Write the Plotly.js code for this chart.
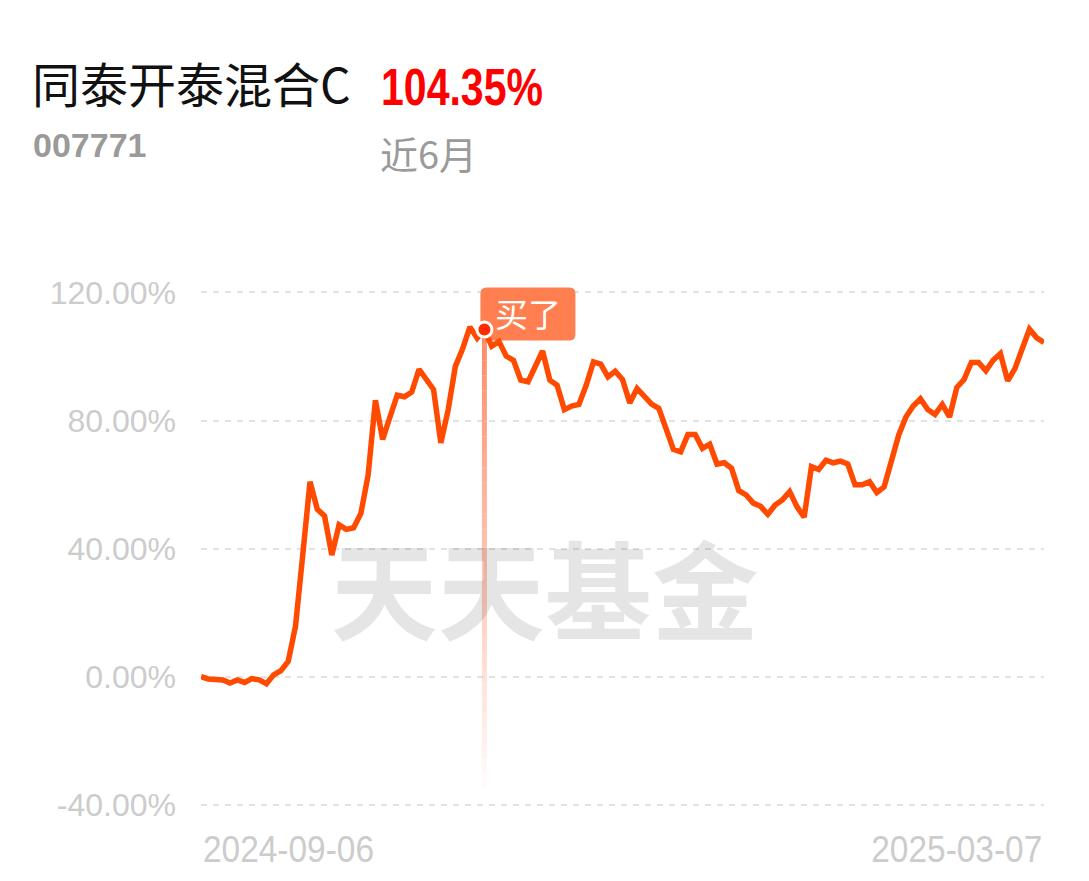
<!DOCTYPE html>
<html>
<head>
<meta charset="utf-8">
<script src="https://cdn.plot.ly/plotly-3.0.1.min.js"></script>
<style>
  html, body { margin: 0; padding: 0; background: #ffffff; }
  #chart { width: 1089px; height: 881px; }
</style>
</head>
<body>
<div id="chart"></div>
<script>
// ---- data ----
const fundName = '同泰开泰混合C';
const fundCode = '007771';
const totalReturn = '104.35%';
const periodLabel = '近6月';
const buyLabel = '买了';
const watermark = '天天基金';
const endDates = ['2024-09-06', '2025-03-07'];
const yTicks = [-40, 0, 40, 80, 120];
const yTickText = ['-40.00%', '0.00%', '40.00%', '80.00%', '120.00%'];
const buyIndex = 39;
const returns = [
  0.0, -0.7, -0.9, -1.0, -2.0, -1.0, -1.8, -0.6, -1.0, -2.2,
  0.6, 1.9, 4.8, 15.7, 38.0, 60.9, 52.3, 50.2, 38.0, 47.4,
  46.0, 46.5, 51.0, 63.0, 86.3, 74.1, 81.1, 87.9, 87.4, 88.9,
  96.0, 92.9, 89.7, 73.0, 83.2, 96.9, 102.4, 109.2, 105.7, 108.4,
  103.2, 104.7, 100.1, 98.8, 92.6, 92.1, 97.3, 101.7, 92.6, 91.0,
  83.4, 84.5, 85.0, 91.0, 98.3, 97.6, 93.6, 95.4, 92.8, 85.5,
  90.0, 87.4, 85.1, 83.8, 77.0, 71.0, 70.2, 75.6, 75.6, 71.3,
  72.6, 66.4, 66.8, 65.1, 58.1, 56.8, 54.2, 53.2, 50.7, 53.6,
  55.2, 57.8, 53.1, 49.8, 65.6, 64.7, 67.6, 66.8, 67.3, 66.4,
  59.9, 59.9, 60.9, 57.5, 59.3, 66.8, 75.4, 81.1, 84.5, 86.8,
  83.4, 81.9, 85.0, 81.1, 90.3, 92.8, 98.1, 98.1, 95.5, 98.8,
  100.9, 92.4, 96.2, 102.4, 108.5, 105.8, 104.35
];

// ---- layout helpers (pixel -> paper) ----
const W = 1089, H = 881;
const L = 201, R = 1044, T = 286, B = 808;
const px = x => (x - L) / (R - L);
const py = y => (B - y) / (B - T);

const idx = returns.map((_, i) => i);
const lastIdx = returns.length - 1;
const buyVal = returns[buyIndex];

const CJK = '"Noto Sans CJK SC", "Noto Sans", sans-serif';
const SANS = '"Liberation Sans", Arial, sans-serif';

// watermark drawn as the first (lowest) trace
const wmTrace = {
  type: 'scatter', mode: 'text',
  x: [47.3], y: [22.3],
  text: [watermark],
  textfont: { family: CJK, size: 107, color: 'rgba(0,0,0,0.10)', weight: 700 },
  hoverinfo: 'skip', showlegend: false, cliponaxis: false
};

const lineTrace = {
  type: 'scatter', mode: 'lines',
  x: idx, y: returns,
  line: { color: '#ff4a00', width: 5.5, shape: 'linear' },
  hoverinfo: 'skip', showlegend: false, cliponaxis: false
};

const buyTrace = {
  type: 'scatter', mode: 'markers',
  x: [buyIndex], y: [buyVal],
  marker: { color: '#ff2a00', size: 15, line: { color: '#ffffff', width: 3 } },
  hoverinfo: 'skip', showlegend: false, cliponaxis: false
};

// fading vertical guide below the buy point
const shapes = [];
const nSeg = 30;
const yBottom = -35;
for (let k = 0; k < nSeg; k++) {
  const y0 = buyVal + (yBottom - buyVal) * k / nSeg;
  const y1 = buyVal + (yBottom - buyVal) * (k + 1) / nSeg;
  const a = 0.85 * (1 - k / nSeg);
  shapes.push({
    type: 'line', layer: 'between', xref: 'x', yref: 'y',
    x0: buyIndex, x1: buyIndex, y0: y0, y1: y1,
    line: { color: 'rgba(255,120,80,' + a.toFixed(3) + ')', width: 5 }
  });
}
// rounded label box anchored at the buy point (pixel offsets)
(function () {
  const x0 = -4, x1 = 91, y0 = -11, y1 = 42, r = 6;
  const p = `M ${x0 + r},${y1} L ${x1 - r},${y1} Q ${x1},${y1} ${x1},${y1 - r} ` +
            `L ${x1},${y0 + r} Q ${x1},${y0} ${x1 - r},${y0} L ${x0 + r},${y0} ` +
            `Q ${x0},${y0} ${x0},${y0 + r} L ${x0},${y1 - r} Q ${x0},${y1} ${x0 + r},${y1} Z`;
  shapes.push({
    type: 'path', layer: 'between',
    xref: 'x', yref: 'y', xsizemode: 'pixel', ysizemode: 'pixel',
    xanchor: buyIndex, yanchor: buyVal,
    path: p, fillcolor: '#ff7f50', line: { width: 0 }
  });
})();

const annotations = [
  { xref: 'paper', yref: 'paper', x: px(379), y: py(88), xanchor: 'left', yanchor: 'middle',
    text: totalReturn, showarrow: false,
    font: { family: SANS, size: 51, color: '#ff0000', weight: 700 } },
  { xref: 'paper', yref: 'paper', x: px(31), y: py(145), xanchor: 'left', yanchor: 'middle',
    text: fundCode, showarrow: false,
    font: { family: SANS, size: 34, color: '#9a9a9a', weight: 700 } },
  { xref: 'paper', yref: 'paper', x: px(378), y: py(152), xanchor: 'left', yanchor: 'middle',
    text: periodLabel, showarrow: false,
    font: { family: CJK, size: 38, color: '#9a9a9a' } },
  { xref: 'x', yref: 'y', x: buyIndex, y: buyVal, xanchor: 'center', yanchor: 'middle',
    xshift: 44, yshift: 17, text: buyLabel, showarrow: false,
    font: { family: CJK, size: 33, color: '#ffffff' } },
  { xref: 'x', yref: 'paper', x: 0, y: py(849), xanchor: 'left', yanchor: 'middle',
    text: endDates[0], showarrow: false,
    font: { family: SANS, size: 37, color: '#cccccc' } },
  { xref: 'x', yref: 'paper', x: lastIdx, y: py(849), xanchor: 'right', yanchor: 'middle',
    text: endDates[1], showarrow: false,
    font: { family: SANS, size: 37, color: '#cccccc' } }
];

const layout = {
  width: W, height: H,
  paper_bgcolor: '#ffffff', plot_bgcolor: '#ffffff',
  margin: { l: L, r: W - R, t: T, b: H - B, pad: 0 },
  title: {
    text: fundName, xref: 'container', yref: 'container',
    x: 32 / W, xanchor: 'left', y: 1 - 86 / H, yanchor: 'middle',
    font: { family: CJK, size: 48, color: '#111111' }
  },
  xaxis: {
    range: [0, lastIdx], showgrid: false, zeroline: false, showline: false,
    showticklabels: false, ticks: '', fixedrange: true
  },
  yaxis: {
    range: [-41, 122], tickvals: yTicks, ticktext: yTickText,
    showgrid: true, gridcolor: '#e2e2e2', gridwidth: 2, griddash: '6px,6px',
    zeroline: false, showline: false, ticks: '', ticklabelstandoff: 24,
    tickfont: { family: SANS, size: 32, color: '#cccccc' }, fixedrange: true
  },
  shapes: shapes,
  annotations: annotations,
  showlegend: false,
  hovermode: false
};

// horizontally condense some labels (the reference uses a narrow face)
function condense(text, targetW, fromRight) {
  document.querySelectorAll('#chart text.annotation-text').forEach(el => {
    if (el.textContent !== text) return;
    const bb = el.getBBox();
    if (!bb.width) return;
    const s = targetW / bb.width;
    const ax = fromRight ? bb.x + bb.width : bb.x;
    const t0 = el.getAttribute('transform') || '';
    el.setAttribute('transform',
      `translate(${ax},0) scale(${s.toFixed(4)},1) translate(${-ax},0) ${t0}`);
  });
}

Plotly.newPlot('chart', [wmTrace, lineTrace, buyTrace], layout,
  { displayModeBar: false, staticPlot: true }).then(() => {
  condense(totalReturn, 162, false);
  condense(endDates[0], 171, false);
  condense(endDates[1], 171, true);
});
</script>
</body>
</html>
